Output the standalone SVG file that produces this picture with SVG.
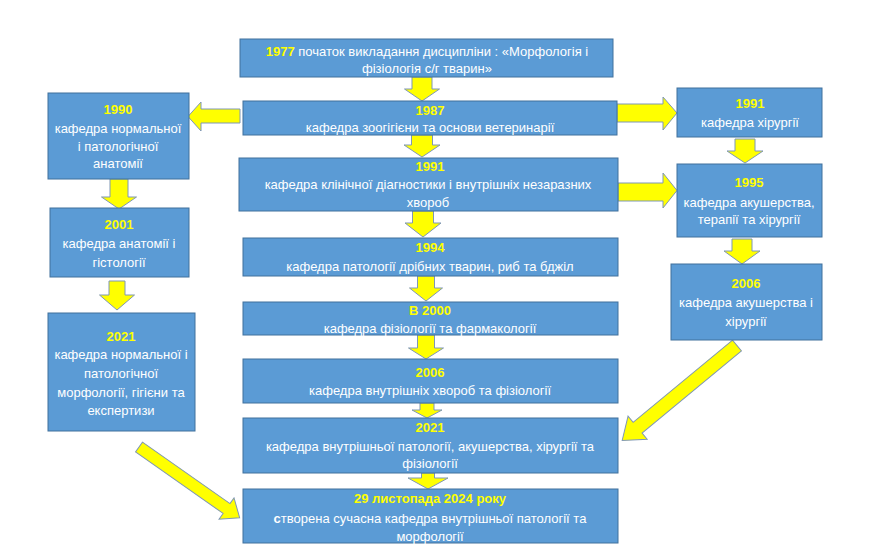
<svg xmlns="http://www.w3.org/2000/svg" width="873" height="547" viewBox="0 0 873 547">
<style>
.box{fill:#5b9bd5;stroke:#41719c;stroke-width:1}
.arr{fill:#ffff00;stroke:#7f97b5;stroke-width:1;stroke-linejoin:miter}
text{font-family:"Liberation Sans","Noto Sans",Arial,sans-serif;font-size:13px;fill:#ffffff;text-anchor:middle}
.y{fill:#ffff00;font-weight:bold}
.big{font-size:13px}
</style>
<rect width="873" height="547" fill="#ffffff"/>
<g id="connectors">
<polygon class="arr" points="412,77 432,77 432,89 439.5,89 422,101 404.5,89 412,89"/>
<polygon class="arr" points="411.5,135 432.5,135 432.5,145 440,145 422,157 404,145 411.5,145"/>
<polygon class="arr" points="412.5,211 433.5,211 433.5,223 441,223 423,237 405,223 412.5,223"/>
<polygon class="arr" points="417.5,276 434.5,276 434.5,288 442.5,288 426,301 409.5,288 417.5,288"/>
<polygon class="arr" points="417.5,335 434.5,335 434.5,348 443.5,348 426,359 408.5,348 417.5,348"/>
<polygon class="arr" points="420,403 434,403 434,410 442,410 427,418 412,410 420,410"/>
<polygon class="arr" points="421.5,473 434.5,473 434.5,478 448,478 428,489 408,478 421.5,478"/>
<polygon class="arr" points="110,179 128,179 128,197 136.5,197 119,209 101.5,197 110,197"/>
<polygon class="arr" points="109,281 125,281 125,295 134.5,295 117,310 99.5,295 109,295"/>
<polygon class="arr" points="735,139 755,139 755,151 763,151 745,163 727,151 735,151"/>
<polygon class="arr" points="732,239 752,239 752,251 760,251 742,264 724,251 732,251"/>
<polygon class="arr" points="240,109 201,109 201,102 188,116.5 201,131 201,123 240,123"/>
<polygon class="arr" points="617,104 663,104 663,97 677,113 663,130 663,122 617,122"/>
<polygon class="arr" points="618,183 663,183 663,173 677,190.5 663,208 663,201 618,201"/>
<polygon class="arr" transform="translate(139,447) rotate(35.1)" points="0,-6 107,-6 107,-13 123,0 107,13 107,6 0,6"/>
<polygon class="arr" transform="translate(737,345.5) rotate(140.4)" points="0,-7 129,-7 129,-15 149,0 129,15 129,7 0,7"/>
</g>
<g id="n1977">
<rect class="box" x="240" y="39" width="373" height="38"/>
<text x="427" y="56"><tspan class="y">1977</tspan> початок викладання дисципліни : «Морфологія і</text>
<text x="427" y="73">фізіологія с/г тварин»</text>
</g>
<g id="n1987">
<rect class="box" x="243" y="101" width="374" height="34"/>
<text class="y" x="430" y="115">1987</text>
<text x="430" y="132">кафедра зоогігієни та основи ветеринарії</text>
</g>
<g id="n1991c">
<rect class="box" x="239" y="158" width="379" height="53"/>
<text class="y" x="430" y="171">1991</text>
<text x="428" y="189">кафедра клінічної діагностики і внутрішніх незаразних</text>
<text x="428" y="207">хвороб</text>
</g>
<g id="n1994">
<rect class="box" x="243" y="238" width="375" height="38"/>
<text class="y" x="430" y="252">1994</text>
<text x="430" y="271">кафедра патології дрібних тварин, риб та бджіл</text>
</g>
<g id="n2000">
<rect class="box" x="243" y="302" width="375" height="33"/>
<text class="y" x="430" y="315">В 2000</text>
<text x="430" y="333">кафедра фізіології та фармакології</text>
</g>
<g id="n2006c">
<rect class="box" x="243" y="359" width="375" height="44"/>
<text class="y" x="430" y="377">2006</text>
<text x="430" y="395">кафедра внутрішніх хвороб та фізіології</text>
</g>
<g id="n2021c">
<rect class="box" x="243" y="418" width="375" height="55"/>
<text class="y" x="430" y="432">2021</text>
<text x="430" y="451">кафедра внутрішньої патології, акушерства, хірургії та</text>
<text x="430" y="468">фізіології</text>
</g>
<g id="n2024">
<rect class="box" x="243" y="489" width="375" height="54"/>
<text class="y big" x="430" y="503">29 листопада 2024 року</text>
<text x="430" y="523"><tspan font-weight="bold">с</tspan>творена сучасна кафедра внутрішньої патології та</text>
<text x="430" y="541">морфології</text>
</g>
<g id="n1990">
<rect class="box" x="48" y="93" width="141" height="86"/>
<text class="y" x="118" y="114">1990</text>
<text x="118" y="133">кафедра нормальної</text>
<text x="118" y="151">і патологічної</text>
<text x="118" y="168">анатомії</text>
</g>
<g id="n2001">
<rect class="box" x="50" y="208" width="139" height="69"/>
<text class="y" x="119" y="229">2001</text>
<text x="119" y="248">кафедра анатомії і</text>
<text x="119" y="267">гістології</text>
</g>
<g id="n2021l">
<rect class="box" x="48" y="313" width="147" height="118"/>
<text class="y" x="121" y="341">2021</text>
<text x="121" y="359">кафедра нормальної і</text>
<text x="121" y="378">патологічної</text>
<text x="121" y="397">морфології, гігієни та</text>
<text x="121" y="415">експертизи</text>
</g>
<g id="n1991r">
<rect class="box" x="677" y="88" width="145" height="49"/>
<text class="y" x="750" y="108">1991</text>
<text x="750" y="127">кафедра  хірургії</text>
</g>
<g id="n1995">
<rect class="box" x="677" y="164" width="145" height="73"/>
<text class="y" x="749" y="187">1995</text>
<text x="749" y="207">кафедра акушерства,</text>
<text x="749" y="224">терапії та хірургії</text>
</g>
<g id="n2006r">
<rect class="box" x="671" y="264" width="151" height="76"/>
<text class="y" x="746" y="288">2006</text>
<text x="746" y="307">кафедра акушерства і</text>
<text x="746" y="326">хірургії</text>
</g>
</svg>
